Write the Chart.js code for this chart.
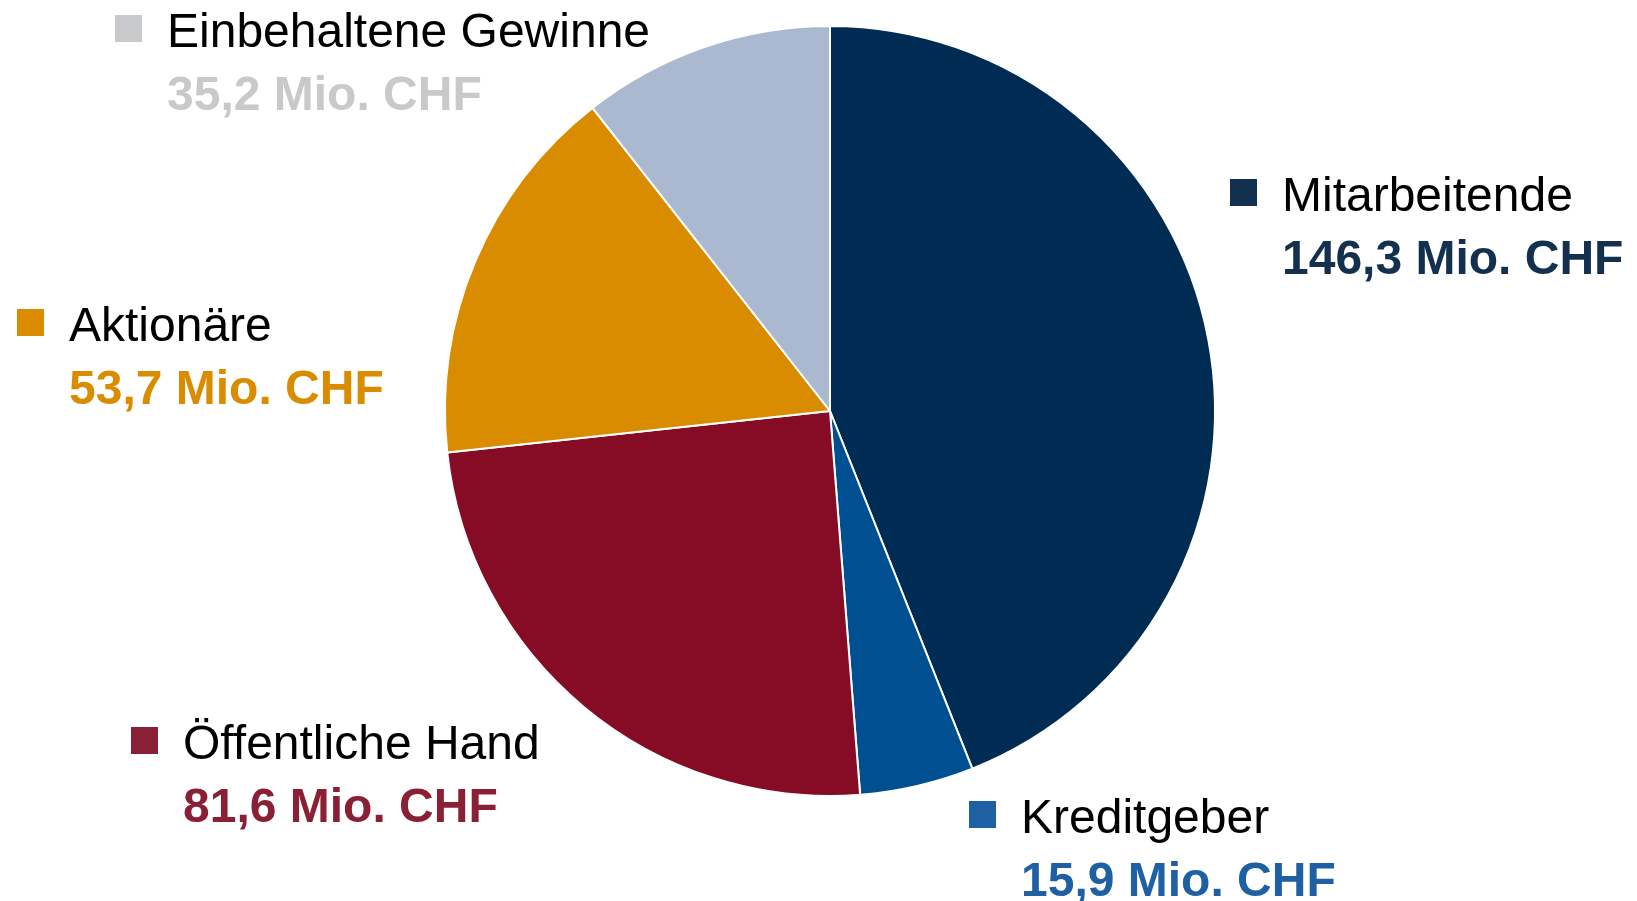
<!DOCTYPE html>
<html><head><meta charset="utf-8">
<script src="https://cdn.jsdelivr.net/npm/chart.js@4.4.1/dist/chart.umd.min.js"></script>
<style>html,body{margin:0;padding:0;background:#fff;overflow:hidden}#wrap{width:1637px;height:901px;position:relative}</style>
</head><body><div id="wrap"><canvas id="c" width="1637" height="901"></canvas></div>
<script>
const categories = ["Mitarbeitende", "Kreditgeber", "Öffentliche Hand", "Aktionäre", "Einbehaltene Gewinne"];
const values = [146.3, 15.9, 81.6, 53.7, 35.2];
const valueLabels = ["146,3 Mio. CHF", "15,9 Mio. CHF", "81,6 Mio. CHF", "53,7 Mio. CHF", "35,2 Mio. CHF"];

const sliceColors = ["#002b52", "#005091", "#850c24", "#d98c00", "#aab9cf"];
const markerColors = ["#13304f", "#1f5fa3", "#8a2035", "#d98c00", "#c8c9cb"];
const valueColors = ["#13304f", "#1f5fa3", "#8a2035", "#d98c00", "#c8c9cb"];
// label anchor (text x, name baseline y)
const labelAnchors = [[1282, 211], [1021, 833], [183, 759], [69, 341], [167, 47]];

const labelPlugin = {
  id: 'sideLabels',
  afterDraw(chart) {
    const ctx = chart.ctx;
    ctx.save();
    categories.forEach((name, i) => {
      const [x, y] = labelAnchors[i];
      ctx.fillStyle = markerColors[i];
      ctx.fillRect(x - 52, y - 32, 27, 27);
      ctx.textBaseline = 'alphabetic';
      ctx.textAlign = 'left';
      ctx.font = '48px "Liberation Sans", Arial, sans-serif';
      ctx.fillStyle = '#000';
      ctx.fillText(name, x, y);
      ctx.font = 'bold 48px "Liberation Sans", Arial, sans-serif';
      ctx.fillStyle = valueColors[i];
      ctx.fillText(valueLabels[i], x, y + 63);
    });
    ctx.restore();
  }
};

new Chart(document.getElementById('c'), {
  type: 'pie',
  data: {
    labels: categories,
    datasets: [{
      data: values,
      backgroundColor: sliceColors,
      borderColor: '#ffffff',
      borderWidth: 2
    }]
  },
  options: {
    responsive: false,
    animation: false,
    layout: { padding: { left: 23, right: 0, top: 25, bottom: 104 } },
    plugins: { legend: { display: false }, tooltip: { enabled: false } }
  },
  plugins: [labelPlugin]
});
</script>
</body></html>
